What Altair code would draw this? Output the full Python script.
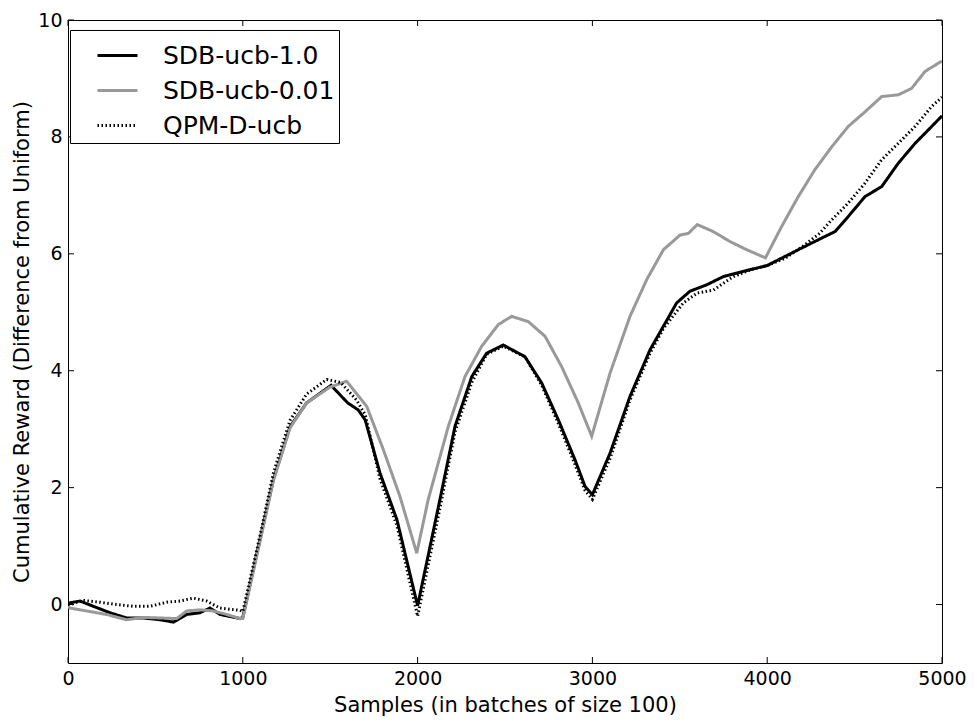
import altair as alt
import pandas as pd

# ---- data ----
series_names = ["SDB-ucb-1.0", "SDB-ucb-0.01", "QPM-D-ucb"]

sdb1_x = [0, 11, 69, 145, 240, 336, 431, 526, 603, 679, 755, 812, 870, 984, 1000,
          1100, 1175, 1270, 1365, 1505, 1600, 1660, 1700, 1785, 1882, 2000,
          2128, 2214, 2310, 2395, 2490, 2614, 2710, 2805, 2900, 2958, 3000,
          3101, 3215, 3330, 3406, 3482, 3558, 3654, 3749, 3863, 4000,
          4026, 4178, 4292, 4388, 4464, 4560, 4655, 4750, 4846, 4922, 5000]
sdb1_y = [0.0, 0.03, 0.06, -0.03, -0.14, -0.23, -0.23, -0.26, -0.3, -0.17, -0.14, -0.06, -0.17, -0.24, -0.22,
          1.14, 2.14, 3.04, 3.45, 3.75, 3.45, 3.33, 3.16, 2.25, 1.45, -0.02,
          1.8, 3.05, 3.9, 4.3, 4.44, 4.24, 3.79, 3.16, 2.48, 2.02, 1.88,
          2.59, 3.56, 4.36, 4.76, 5.16, 5.36, 5.47, 5.61, 5.7, 5.8,
          5.84, 6.07, 6.24, 6.38, 6.64, 6.98, 7.15, 7.55, 7.89, 8.12, 8.36]

sdb001_x = [0, 11, 107, 221, 336, 431, 526, 622, 679, 755, 831, 908, 984, 1000,
            1100, 1175, 1270, 1365, 1499, 1594, 1709, 1804, 1899, 1995,
            2061, 2176, 2271, 2367, 2462, 2538, 2633, 2729, 2824, 2919, 2996,
            3101, 3215, 3311, 3406, 3501, 3549, 3600, 3692, 3787, 3883, 3990,
            4083, 4178, 4273, 4369, 4464, 4560, 4655, 4750, 4826, 4903, 5000]
sdb001_y = [-0.02, -0.06, -0.11, -0.17, -0.26, -0.22, -0.23, -0.24, -0.11, -0.09, -0.11, -0.17, -0.24, -0.24,
            1.1, 2.12, 3.02, 3.45, 3.72, 3.82, 3.39, 2.65, 1.85, 0.88,
            1.8, 3.05, 3.9, 4.42, 4.79, 4.93, 4.84, 4.59, 4.07, 3.45, 2.88,
            3.96, 4.93, 5.56, 6.07, 6.32, 6.35, 6.5, 6.38, 6.21, 6.07, 5.93,
            6.47, 6.98, 7.44, 7.83, 8.18, 8.43, 8.69, 8.72, 8.83, 9.12, 9.3]

qpm_x = [0, 11, 88, 183, 278, 374, 469, 565, 641, 717, 793, 870, 984, 1000,
         1100, 1175, 1270, 1365, 1480, 1560, 1650, 1700, 1785, 1882, 2000,
         2128, 2214, 2310, 2395, 2490, 2614, 2710, 2805, 2900, 2958, 3000,
         3101, 3215, 3330, 3406, 3520, 3600, 3692, 3800, 3900, 4000,
         4100, 4200, 4300, 4369, 4464, 4560, 4655, 4750, 4846, 4941, 5000]
qpm_y = [0.0, 0.0, 0.07, 0.04, 0.0, -0.03, -0.03, 0.04, 0.06, 0.11, 0.06, -0.06, -0.1, -0.12,
         1.2, 2.25, 3.15, 3.6, 3.85, 3.8, 3.5, 3.25, 2.15, 1.35, -0.2,
         1.65, 2.95, 3.8, 4.28, 4.42, 4.24, 3.75, 3.1, 2.4, 1.95, 1.8,
         2.5, 3.5, 4.3, 4.72, 5.16, 5.33, 5.38, 5.6, 5.72, 5.8,
         5.92, 6.12, 6.35, 6.58, 6.87, 7.21, 7.61, 7.89, 8.18, 8.52, 8.68]

x_ticks = [0, 1000, 2000, 3000, 4000, 5000]
y_ticks = [0, 2, 4, 6, 8, 10]

# ---- build table ----
rows = []
for name, xs, ys in [(series_names[0], sdb1_x, sdb1_y),
                     (series_names[1], sdb001_x, sdb001_y),
                     (series_names[2], qpm_x, qpm_y)]:
    for i, (a, b) in enumerate(zip(xs, ys)):
        rows.append({"series": name, "x": a, "y": b, "order": i})
df = pd.DataFrame(rows)

W, H = 874, 643
FONT = "DejaVu Sans"

xscale = alt.Scale(domain=[0, 5000], nice=False, zero=False)
yscale = alt.Scale(domain=[-1, 10], nice=False, zero=False)
xaxis = alt.Axis(values=x_ticks, title="Samples (in batches of size 100)",
                 titleY=31, format="d")
yaxis = alt.Axis(values=y_ticks, title="Cumulative Reward (Difference from Uniform)",
                 titleX=-36, format="d")

lines = alt.Chart(df).mark_line(clip=True).encode(
    x=alt.X("x:Q", scale=xscale, axis=xaxis),
    y=alt.Y("y:Q", scale=yscale, axis=yaxis),
    order="order:Q",
    color=alt.Color("series:N",
                    scale=alt.Scale(domain=series_names, range=["#000000", "#999999", "#000000"]),
                    legend=alt.Legend(title=None)),
    strokeDash=alt.StrokeDash("series:N",
                              scale=alt.Scale(domain=series_names, range=[[1, 0], [1, 0], [1.5, 2.5]]),
                              legend=alt.Legend(title=None)),
    strokeWidth=alt.StrokeWidth("series:N",
                                scale=alt.Scale(domain=series_names, range=[3, 3, 1.5]),
                                legend=alt.Legend(title=None)),
)

xt = pd.DataFrame({"x": x_ticks})
yt = pd.DataFrame({"y": y_ticks})

xtick_bottom = alt.Chart(xt).mark_rule(color="black", strokeWidth=1).encode(
    x=alt.X("x:Q", scale=xscale, axis=xaxis), y=alt.value(H), y2=alt.value(H - 6))
xtick_top = alt.Chart(xt).mark_rule(color="black", strokeWidth=1).encode(
    x=alt.X("x:Q", scale=xscale, axis=xaxis), y=alt.value(0), y2=alt.value(6))
ytick_left = alt.Chart(yt).mark_rule(color="black", strokeWidth=1).encode(
    y=alt.Y("y:Q", scale=yscale, axis=yaxis), x=alt.value(0), x2=alt.value(6))
ytick_right = alt.Chart(yt).mark_rule(color="black", strokeWidth=1).encode(
    y=alt.Y("y:Q", scale=yscale, axis=yaxis), x=alt.value(W), x2=alt.value(W - 6))

chart = alt.layer(lines, xtick_bottom, xtick_top, ytick_left, ytick_right).properties(
    width=W, height=H,
    autosize=alt.AutoSizeParams(type="none"),
    padding={"left": 60, "top": 12, "right": 24, "bottom": 55},
).configure_view(
    stroke="black", strokeWidth=1
).configure_axis(
    grid=False, domain=False, ticks=False, tickSize=0,
    labelFont=FONT, labelFontSize=19, labelColor="black", labelPadding=6,
    labelFlush=False, labelOverlap=False,
    titleFont=FONT, titleFontSize=21, titleColor="black", titleFontWeight="normal",
).configure_legend(
    orient="none", legendX=2, legendY=10,
    strokeColor="black", fillColor="white", cornerRadius=0, strokeWidth=1,
    padding=4, rowPadding=-7, symbolType="stroke", symbolSize=1600,
    labelFont=FONT, labelFontSize=25, labelColor="black", labelOffset=24,
    labelLimit=400, symbolOffset=22,
)

chart.save("out.html", embed_options={"renderer": "svg", "actions": False})
